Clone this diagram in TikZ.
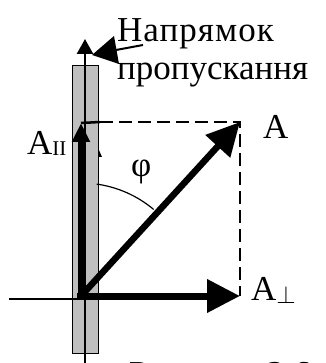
\documentclass[tikz,border=0pt]{standalone}
\usepackage{fontspec}
\setmainfont{Liberation Serif}
\usetikzlibrary{arrows.meta}

\tikzset{
  vec/.style={line width=7pt},
  lbl/.style={inner sep=0pt,anchor=base west,font=\fontsize{35}{38}\selectfont}
}

\begin{document}
\begin{tikzpicture}[x=1pt,y=-1pt]
\useasboundingbox (0,0) rectangle (325,363);
% points of the drawing
\coordinate (O) at (81,296);
\coordinate (A) at (240,122);
\coordinate (Apar) at (81,123);
\coordinate (Aperp) at (240,296);
\coordinate (axbot) at (85,366);
\coordinate (axtop) at (85,39);
\coordinate (left) at (9,299);
% polarizer plate
\filldraw[fill=gray!50,line width=1pt] (72,66) rectangle (98,353);
% transmission axis
\draw[line width=2.5pt,-{Triangle[length=15pt,width=16pt]}] (axbot) -- (axtop);
\draw[line width=1.2pt] (left) -- (85,299);
% projections
\draw[line width=2.5pt] (Apar) -- (100,122);
\draw[line width=1.5pt,dash pattern=on 13pt off 6pt] (100,122) -- (A) -- (Aperp);
% vectors
\draw[vec,-{Triangle[length=19pt,width=17pt]}] (81,300) -- (Apar);
\draw[vec,-{Triangle[length=33pt,width=32pt]}] (77,296) -- (Aperp);
\draw[line width=6.5pt,-{Triangle[length=33pt,width=32pt]}] (O) -- (A);
\fill (98,148) -- (102,157) -- (98,157) -- cycle;
% angle
\draw[line width=1.2pt] (O) ++(-82:113) arc[start angle=-82,end angle=-50,radius=113];
\node[lbl] (phi) at (131,176) {φ};
% labels
\node[lbl] (lA) at (263,139) {A};
\node[lbl] (lApar) at (27,155) {A\raisebox{-1pt}{\fontsize{21}{21}\selectfont II}};
\node[lbl] (lAperp) at (251,300) {A\raisebox{-3pt}{\fontsize{24}{24}\selectfont$\perp$}};
\node[lbl] (dir1) at (117,42) {\addfontfeature{LetterSpace=3}Напрямок};
\node[lbl] (dir2) at (117,80) {пропускання};
\node[lbl] (cap) at (129,385) {Рисунок\hspace{14pt}2.6};
% pointer to the axis
\coordinate (ptail) at (143,45);
\coordinate (phead) at (92,55);
\coordinate (pbase) at (116,50);
\draw[line width=2pt] (ptail) -- (pbase);
\fill (phead) -- (114,36) -- (119,64) -- cycle;
\end{tikzpicture}
\end{document}
